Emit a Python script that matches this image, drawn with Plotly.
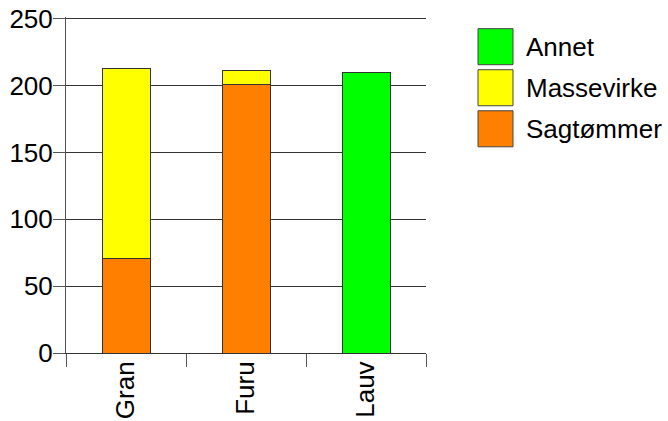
import plotly.graph_objects as go

categories = ["Gran", "Furu", "Lauv"]
sagtommer = [71, 201, 0]
massevirke = [142, 10, 0]
annet = [0, 0, 210]
series_names = ["Sagtømmer", "Massevirke", "Annet"]
series_colors = ["#FF8000", "#FFFF00", "#00FF00"]
y_ticks = [0, 50, 100, 150, 200, 250]
y_max = 251.25  # a hair above 250 so the top gridline is drawn

fig = go.Figure()
for name, vals, col in zip(series_names, [sagtommer, massevirke, annet], series_colors):
    fig.add_trace(go.Bar(
        x=categories, y=vals, name=name, marker_color=col,
        marker_line=dict(color="#333333", width=1), showlegend=False,
    ))

W, H = 668, 421
x_left, x_right = 66, 426
y_zero, y_250 = 353, 19
pw = x_right - x_left
ph = (y_zero - y_250) * y_max / 250
ml = x_left
mr = W - x_right
mb = H - y_zero
mt = H - mb - ph

def px_to_paper_x(px):
    return (px - ml) / pw

def px_to_paper_y(py):
    return (y_zero - py) / ph

FONT = "Liberation Sans, Arial"

# manual legend (top to bottom: Annet, Massevirke, Sagtømmer)
legend_rows = [(29, 65), (70, 106), (111, 147)]
for (top, bot), name, col in zip(legend_rows, series_names[::-1], series_colors[::-1]):
    fig.add_shape(type="rect", xref="paper", yref="paper",
                  x0=px_to_paper_x(478), x1=px_to_paper_x(513),
                  y0=px_to_paper_y(bot), y1=px_to_paper_y(top),
                  fillcolor=col, line=dict(color="#444444", width=1))
    fig.add_annotation(xref="paper", yref="paper", x=px_to_paper_x(524),
                       y=px_to_paper_y((top + bot) / 2), text=name, showarrow=False,
                       xanchor="left", yanchor="middle",
                       font=dict(family=FONT, size=26, color="black"))

fig.update_layout(
    barmode="stack", bargap=0.6,
    width=W, height=H,
    margin=dict(l=ml, r=mr, t=mt, b=mb, pad=0, autoexpand=False),
    paper_bgcolor="white", plot_bgcolor="white",
    font=dict(family=FONT, size=26, color="black"),
)
fig.update_xaxes(
    tickangle=-90, ticks="outside", tickson="boundaries", ticklen=13,
    tickcolor="#555555", showline=True, linecolor="#333333", linewidth=1,
    showgrid=False, mirror=False, automargin=False, ticklabelstandoff=-3,
)
fig.update_yaxes(
    range=[0, y_max], tickvals=y_ticks, ticks="outside", ticklen=12,
    tickcolor="#555555", showline=True, linecolor="#555555", linewidth=1,
    showgrid=True, gridcolor="#333333", gridwidth=1, zeroline=False,
    automargin=False, ticklabelstandoff=-5,
)
fig.write_html("out.html", config={"displayModeBar": False},
               post_script="document.body.style.margin='0';")
